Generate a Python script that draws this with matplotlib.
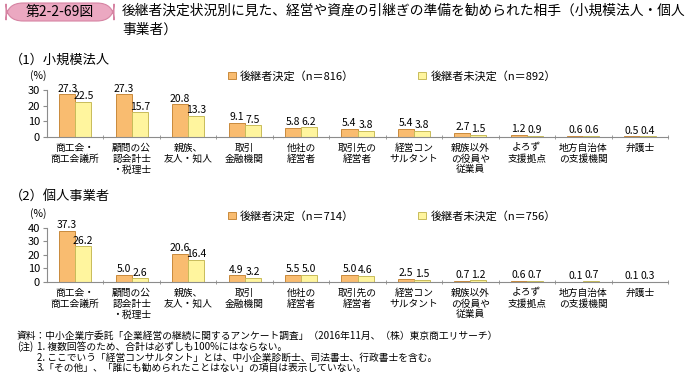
import numpy as np
import matplotlib
matplotlib.use("Agg")
import matplotlib.pyplot as plt
from matplotlib.patches import Patch, FancyBboxPatch

plt.rcParams['font.family'] = ['Noto Sans CJK JP', 'DejaVu Sans']

# data
categories = ['商工会・\n商工会議所', '顧問の公\n認会計士\n・税理士', '親族、\n友人・知人',
              '取引\n金融機関', '他社の\n経営者', '取引先の\n経営者', '経営コン\nサルタント',
              '親族以外\nの役員や\n従業員', 'よろず\n支援拠点', '地方自治体\nの支援機関', '弁護士']
small_decided = [27.3, 27.3, 20.8, 9.1, 5.8, 5.4, 5.4, 2.7, 1.2, 0.6, 0.5]
small_undecided = [22.5, 15.7, 13.3, 7.5, 6.2, 3.8, 3.8, 1.5, 0.9, 0.6, 0.4]
indiv_decided = [37.3, 5.0, 20.6, 4.9, 5.5, 5.0, 2.5, 0.7, 0.6, 0.1, 0.1]
indiv_undecided = [26.2, 2.6, 16.4, 3.2, 5.0, 4.6, 1.5, 1.2, 0.7, 0.7, 0.3]

panels = [
    dict(title='（1）小規模法人', dec=small_decided, undec=small_undecided,
         n_dec=816, n_undec=892, yticks=[0, 10, 20, 30]),
    dict(title='（2）個人事業者', dec=indiv_decided, undec=indiv_undecided,
         n_dec=714, n_undec=756, yticks=[0, 10, 20, 30, 40]),
]

source = '資料：中小企業庁委託「企業経営の継続に関するアンケート調査」（2016年11月、（株）東京商工リサーチ）'
notes = [
    '1. 複数回答のため、合計は必ずしも100%にはならない。',
    '2. ここでいう「経営コンサルタント」とは、中小企業診断士、司法書士、行政書士を含む。',
    '3.「その他」、「誰にも勧められたことはない」の項目は表示していない。',
]

ORANGE = '#F9BC70'
ORANGE_EDGE = '#C98A3C'
YELLOW = '#FFF59E'
YELLOW_EDGE = '#C8BC5A'
AXCOL = '#8C8C8C'
W, H = 686, 379

fig = plt.figure(figsize=(W / 100, H / 100), dpi=100)


def px(x, y):
    # pixel position (from top-left) -> figure fraction
    return x / W, 1 - y / H


# title badge and heading
badge = FancyBboxPatch(px(6, 21), 108 / W, 18 / H, transform=fig.transFigure,
                       boxstyle='round,pad=0,rounding_size=0.025',
                       facecolor='#EBA8C1', edgecolor='#D684A3', linewidth=0.8,
                       mutation_aspect=W / H)
fig.add_artist(badge)
fig.text(*px(60, 12), '第2-2-69図', fontsize=10, ha='center', va='center')
fig.text(*px(122, 11),
         '後継者決定状況別に見た、経営や資産の引継ぎの準備を勧められた相手（小規模法人・個人',
         fontsize=9.9, ha='left', va='center')
fig.text(*px(122, 30), '事業者）', fontsize=9.9, ha='left', va='center')

# panel layout in pixels
zero_y = [137, 282]
top_y = [90, 227.5]
head_y = [60, 197]
pct_y = [76, 214]
legend_y = [76, 216]
left, right = 47, 668

x = np.arange(len(categories))
bw = 0.285

for i, p in enumerate(panels):
    y0, ytop = zero_y[i], top_y[i]
    ax = fig.add_axes([left / W, 1 - y0 / H, (right - left) / W, (y0 - ytop) / H])
    fig.text(*px(10, head_y[i]), p['title'], fontsize=9.5, ha='left', va='center')
    fig.text(*px(38, pct_y[i]), '(%)', fontsize=7.5, ha='center', va='center')

    b1 = ax.bar(x - bw / 2, p['dec'], bw, color=ORANGE, edgecolor=ORANGE_EDGE, linewidth=0.7)
    b2 = ax.bar(x + bw / 2, p['undec'], bw, color=YELLOW, edgecolor=YELLOW_EDGE, linewidth=0.7)
    for bars in (b1, b2):
        ax.bar_label(bars, fmt='%.1f', padding=0.5, fontsize=7.5, clip_on=False)

    ax.set_xlim(-0.5, len(categories) - 0.5)
    ax.set_ylim(0, p['yticks'][-1])
    ax.set_yticks(p['yticks'])
    ax.tick_params(axis='y', labelsize=8, length=3, color=AXCOL, pad=2)
    ax.set_xticks(x)
    ax.set_xticklabels(categories, fontsize=7, linespacing=1.12, va='top')
    ax.tick_params(axis='x', length=0, pad=4)
    ax.set_xticks(x + 0.5, minor=True)
    ax.tick_params(axis='x', which='minor', length=3, direction='inout', color=AXCOL)
    for s in ('top', 'right'):
        ax.spines[s].set_visible(False)
    for s in ('left', 'bottom'):
        ax.spines[s].set_color(AXCOL)
        ax.spines[s].set_linewidth(0.8)
    ax.patch.set_visible(False)

    handles = [Patch(facecolor=ORANGE, edgecolor=ORANGE_EDGE, linewidth=0.7),
               Patch(facecolor=YELLOW, edgecolor=YELLOW_EDGE, linewidth=0.7)]
    labels = [f'後継者決定（n＝{p["n_dec"]}）', f'後継者未決定（n＝{p["n_undec"]}）']
    anchor = ((228 - left) / (right - left), (y0 - legend_y[i]) / (y0 - ytop))
    ax.legend(handles, labels, ncol=2, frameon=False, fontsize=8,
              loc='center left', bbox_to_anchor=anchor,
              handlelength=0.7, handleheight=0.7, handletextpad=0.4, columnspacing=5.75,
              borderaxespad=0, borderpad=0)

# source and notes
fig.text(*px(17, 336), source, fontsize=7, ha='left', va='center')
fig.text(*px(17, 347), '(注)', fontsize=7, ha='left', va='center')
for i, line in enumerate(notes):
    fig.text(*px(37, 347 + 10.5 * i), line, fontsize=7, ha='left', va='center')

fig.savefig('out.png', dpi=100)
